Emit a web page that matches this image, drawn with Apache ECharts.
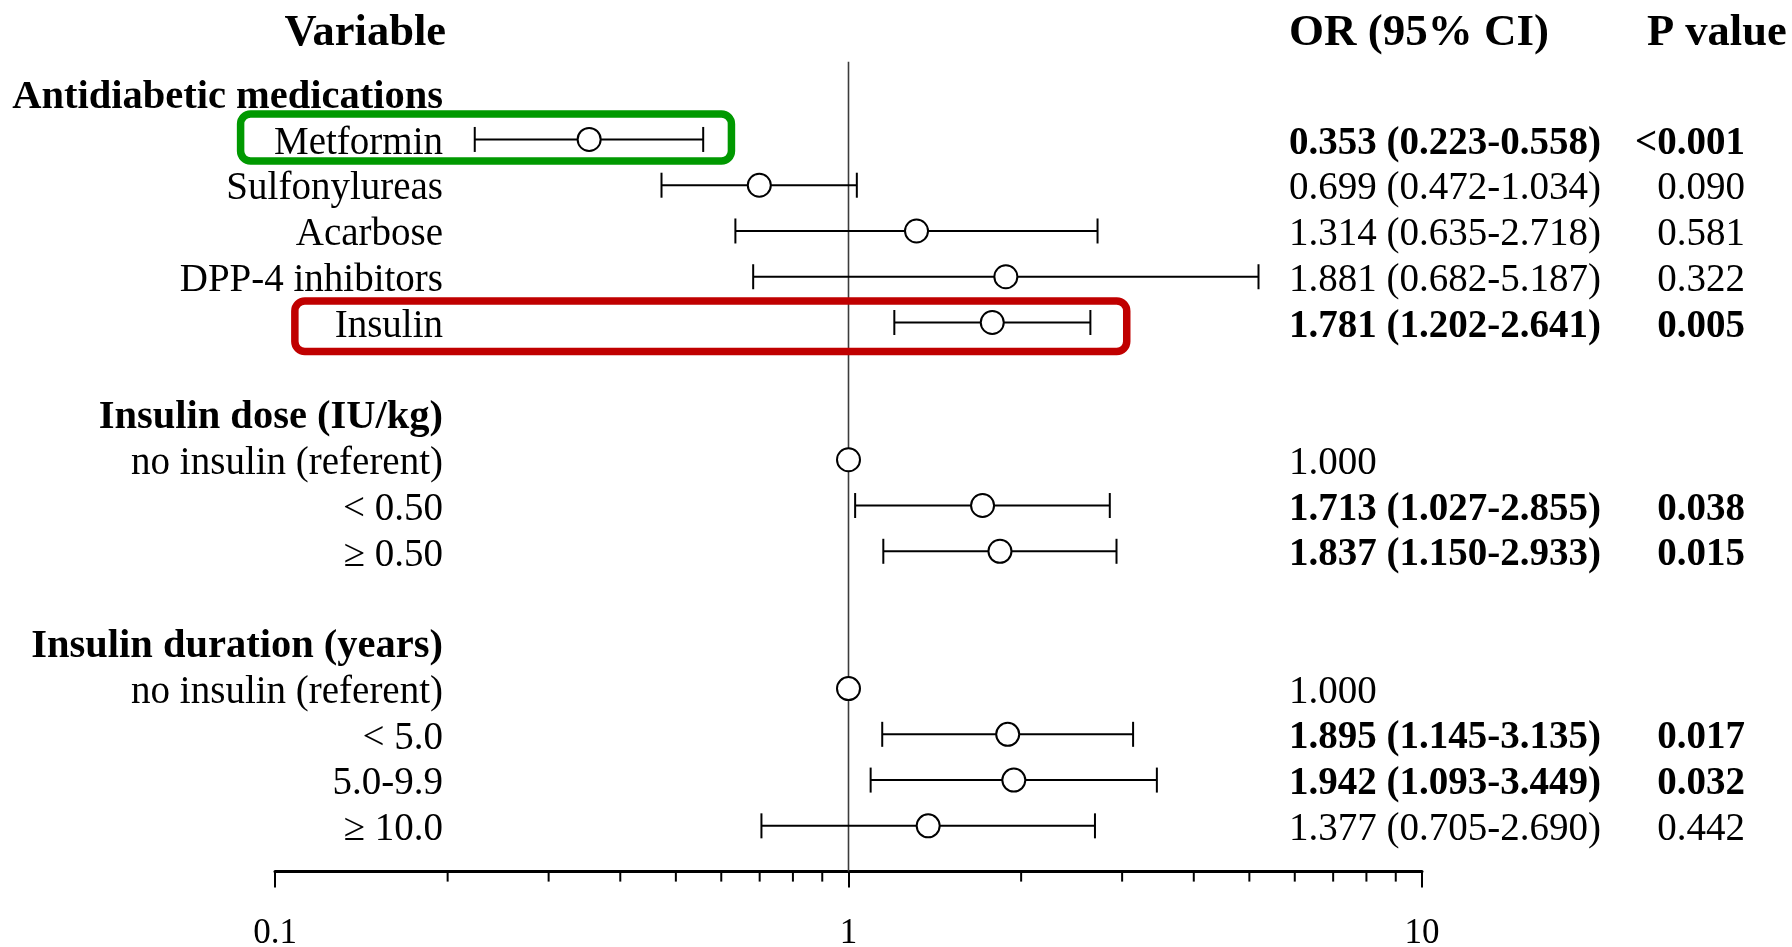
<!DOCTYPE html>
<html>
<head>
<meta charset="utf-8">
<style>
  html, body { margin: 0; padding: 0; background: #ffffff; }
  #chart { width: 1792px; height: 947px; }
</style>
<script src="https://cdn.jsdelivr.net/npm/echarts@6/dist/echarts.min.js"></script>
</head>
<body>
<div id="chart"></div>
<script>
// ---------------- data ----------------
const rowLabels = [
  'Antidiabetic medications', 'Metformin', 'Sulfonylureas', 'Acarbose', 'DPP-4 inhibitors', 'Insulin',
  '',
  'Insulin dose (IU/kg)', 'no insulin (referent)', '< 0.50', '\u2265 0.50',
  '',
  'Insulin duration (years)', 'no insulin (referent)', '< 5.0', '5.0-9.9', '\u2265 10.0'
];
const headingRows = [0, 7, 12];
const orValues = [null, 0.353, 0.699, 1.314, 1.881, 1.781, null, null, 1.000, 1.713, 1.837, null, null, 1.000, 1.895, 1.942, 1.377];
const ciLow    = [null, 0.223, 0.472, 0.635, 0.682, 1.202, null, null, null, 1.027, 1.150, null, null, null, 1.145, 1.093, 0.705];
const ciHigh   = [null, 0.558, 1.034, 2.718, 5.187, 2.641, null, null, null, 2.855, 2.933, null, null, null, 3.135, 3.449, 2.690];
const pValues  = ['', '<0.001', '0.090', '0.581', '0.322', '0.005', '', '', '', '0.038', '0.015', '', '', '', '0.017', '0.032', '0.442'];
const boldRows = [1, 5, 9, 10, 14, 15];
const minorTickValues = [0.2, 0.3, 0.4, 0.5, 0.6, 0.7, 0.8, 0.9, 2, 3, 4, 5, 6, 7, 8, 9];
const referenceValue = 1;
// highlight boxes: [xFrom, xTo, rowTop, rowBottom] in data units
const highlightGreen = [0.0871, 0.625, 0.444, 1.47];
const highlightRed   = [0.1083, 3.056, 4.53, 5.634];

// ---------------- helpers ----------------
const FONT = "'Liberation Serif', 'Times New Roman', serif";
const nRows = rowLabels.length;
function fmt3(v) { return v.toFixed(3); }
function orText(i) {
  if (orValues[i] == null) return '';
  if (ciLow[i] == null) return fmt3(orValues[i]);
  return fmt3(orValues[i]) + ' (' + fmt3(ciLow[i]) + '-' + fmt3(ciHigh[i]) + ')';
}
function rowIndex(value) {
  const k = Math.round(value);
  if (Math.abs(value - k) > 1e-6 || k < 0 || k >= nRows) return -1;
  return k;
}

const pointData = [];
const barData = [];
orValues.forEach((v, i) => {
  if (v == null) return;
  pointData.push([v, i]);
  if (ciLow[i] != null) barData.push([ciLow[i], ciHigh[i], i]);
});

const chart = echarts.init(document.getElementById('chart'), null, { renderer: 'canvas' });

const commonY = {
  type: 'value', min: -1, max: nRows, interval: 1, inverse: true,
  axisLine: { show: false, onZero: false }, axisTick: { show: false }, splitLine: { show: false }
};

const richBase = {
  n: { fontFamily: FONT, fontSize: 39, color: '#000', fontWeight: 'normal', padding: [8, 0, 0, 0] },
  b: { fontFamily: FONT, fontSize: 39, color: '#000', fontWeight: 'bold', padding: [8, 0, 0, 0] },
  h: { fontFamily: FONT, fontSize: 40.5, color: '#000', fontWeight: 'bold', padding: [8, 0, 0, 0] }
};

const option = {
  backgroundColor: '#ffffff',
  animation: false,
  grid: { left: 275, right: 370, top: 47.94, bottom: 75.4, containLabel: false, outerBoundsMode: 'none' },
  xAxis: {
    type: 'log', logBase: 10, min: 0.1, max: 10,
    axisLine: { onZero: false, lineStyle: { color: '#000', width: 3 } },
    axisTick: { length: 16, lineStyle: { color: '#000', width: 2 } },
    splitLine: { show: false },
    minorTick: { show: false },
    axisLabel: {
      margin: 45, color: '#000', fontFamily: FONT, fontSize: 35,
      formatter: function (v) { return String(+v.toPrecision(6)); }
    }
  },
  yAxis: [
    Object.assign({}, commonY, {
      position: 'left', offset: -168,
      axisLabel: {
        margin: 0, align: 'right',
        formatter: function (v) {
          const k = rowIndex(v);
          if (k < 0 || !rowLabels[k]) return '';
          return (headingRows.indexOf(k) >= 0 ? '{h|' : '{n|') + rowLabels[k] + '}';
        },
        rich: richBase
      }
    }),
    Object.assign({}, commonY, {
      position: 'right', offset: -133,
      axisLabel: {
        margin: 0, align: 'left',
        formatter: function (v) {
          const k = rowIndex(v);
          if (k < 0) return '';
          const t = orText(k);
          if (!t) return '';
          return (boldRows.indexOf(k) >= 0 ? '{b|' : '{n|') + t + '}';
        },
        rich: richBase
      }
    }),
    Object.assign({}, commonY, {
      position: 'right', offset: 323,
      axisLabel: {
        margin: 0, align: 'right',
        formatter: function (v) {
          const k = rowIndex(v);
          if (k < 0 || !pValues[k]) return '';
          return (boldRows.indexOf(k) >= 0 ? '{b|' : '{n|') + pValues[k] + '}';
        },
        rich: richBase
      }
    })
  ],
  graphic: [
    { type: 'text', x: 446, y: 33, style: { text: 'Variable', fontFamily: FONT, fontSize: 44.5, fontWeight: 'bold', fill: '#000', align: 'right', verticalAlign: 'middle' } },
    { type: 'text', x: 1289, y: 33, style: { text: 'OR (95% CI)', fontFamily: FONT, fontSize: 45, fontWeight: 'bold', fill: '#000', align: 'left', verticalAlign: 'middle' } },
    { type: 'text', x: 1647, y: 33, style: { text: 'P value', fontFamily: FONT, fontSize: 44.5, fontWeight: 'bold', fill: '#000', align: 'left', verticalAlign: 'middle' } }
  ],
  series: [
    {
      // vertical reference line at OR = 1
      type: 'custom', clip: false, z: 1,
      data: [[referenceValue, -0.7, nRows]],
      encode: { x: 0, y: [1, 2] },
      renderItem: function (params, api) {
        const p1 = api.coord([api.value(0), api.value(1)]);
        const p2 = api.coord([api.value(0), api.value(2)]);
        return { type: 'line', shape: { x1: p1[0], y1: p1[1], x2: p2[0], y2: p2[1] },
          style: { stroke: '#3c3c3c', lineWidth: 1.6 } };
      }
    },
    {
      // minor ticks on the log axis
      type: 'custom', clip: false, z: 3,
      data: minorTickValues.map(v => [v, nRows]),
      encode: { x: 0, y: 1 },
      renderItem: function (params, api) {
        const p = api.coord([api.value(0), api.value(1)]);
        return { type: 'line', shape: { x1: p[0], y1: p[1], x2: p[0], y2: p[1] + 10 },
          style: { stroke: '#000', lineWidth: 2 } };
      }
    },
    {
      // confidence interval bars
      type: 'custom', clip: false, z: 2,
      data: barData,
      encode: { x: [0, 1], y: 2 },
      renderItem: function (params, api) {
        const a = api.coord([api.value(0), api.value(2)]);
        const b = api.coord([api.value(1), api.value(2)]);
        const h = 12.5;
        const st = { stroke: '#000', lineWidth: 2 };
        return { type: 'group', children: [
          { type: 'line', shape: { x1: a[0], y1: a[1], x2: b[0], y2: b[1] }, style: st },
          { type: 'line', shape: { x1: a[0], y1: a[1] - h, x2: a[0], y2: a[1] + h }, style: st },
          { type: 'line', shape: { x1: b[0], y1: b[1] - h, x2: b[0], y2: b[1] + h }, style: st }
        ] };
      }
    },
    {
      type: 'scatter', z: 4,
      data: pointData,
      symbol: 'circle', symbolSize: 23,
      itemStyle: { color: '#ffffff', borderColor: '#000', borderWidth: 2, opacity: 1 },
      emphasis: { disabled: true }
    },
    {
      // highlight boxes
      type: 'custom', clip: false, z: 5,
      data: [highlightGreen.concat([0]), highlightRed.concat([1])],
      encode: { x: [0, 1], y: [2, 3] },
      renderItem: function (params, api) {
        const p1 = api.coord([api.value(0), api.value(2)]);
        const p2 = api.coord([api.value(1), api.value(3)]);
        const color = api.value(4) === 0 ? '#009900' : '#c00000';
        return { type: 'rect',
          shape: { x: p1[0], y: p1[1], width: p2[0] - p1[0], height: p2[1] - p1[1], r: 10 },
          style: { fill: 'none', stroke: color, lineWidth: 7.5 } };
      }
    }
  ]
};

chart.setOption(option);
</script>
</body>
</html>
